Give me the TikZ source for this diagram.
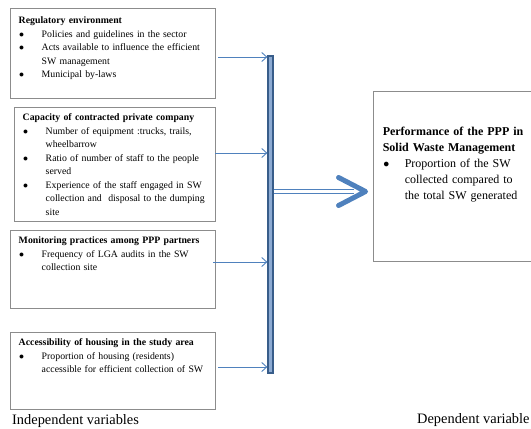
\documentclass[tikz,border=0pt]{standalone}
\usepackage{fontspec}
\setmainfont{Liberation Serif}
\usetikzlibrary{arrows.meta,calc}
\definecolor{FeedClr}{RGB}{79,129,189}
\definecolor{BarClr}{RGB}{56,93,138}
\definecolor{BarFill}{RGB}{140,170,210}
\definecolor{BoxClr}{RGB}{140,140,140}
\newcommand{\ppitem}[2][23pt]{\par\hangindent=#1\hangafter=1\noindent\makebox[#1][l]{\hspace{0.5pt}$\bullet$}#2\par}

\begin{document}
\begin{tikzpicture}[x=1pt,y=-1pt,
  varbox/.style={draw=BoxClr,line width=0.9pt,inner sep=0pt},
  vartext/.style={anchor=north west,inner sep=0pt,text width=195pt,align=left,font=\fontsize{9.8}{13.5}\selectfont},
  feed/.style={draw=FeedClr,line width=0.9pt,-{Straight Barb[length=5pt,width=9pt]}},
  note/.style={anchor=west,inner sep=0pt,font=\fontsize{14.4}{16}\selectfont}]
\useasboundingbox (0,0) rectangle (531,429);

\node[varbox,minimum width=205pt,minimum height=90pt] (reg) at (112.5,53) {};
\node[varbox,minimum width=201pt,minimum height=114pt] (cap) at (114.5,164) {};
\node[varbox,minimum width=205pt,minimum height=78pt] (mon) at (112.5,269) {};
\node[varbox,minimum width=205pt,minimum height=77pt] (acc) at (112.5,370.5) {};
\node[varbox,minimum width=170pt,minimum height=170pt] (perf) at (458,176) {};

\node[vartext] (regtxt) at ([shift={(9pt,-9pt)}]reg.north west) {\textbf{Regulatory environment}
  \ppitem{Policies and guidelines in the sector}
  \ppitem{Acts available to influence the efficient\newline SW management}
  \ppitem{Municipal by-laws}};
\node[vartext] (captxt) at ([shift={(9pt,-7pt)}]cap.north west) {\textbf{Capacity of contracted private company}
  \ppitem{Number of equipment :trucks, trails,\newline wheelbarrow}
  \ppitem{Ratio of number of staff to the people\newline served}
  \ppitem{Experience of the staff engaged in SW\newline collection and\ \ disposal to the dumping\newline site}};
\node[vartext] (montxt) at ([shift={(9pt,-7pt)}]mon.north west) {\textbf{Monitoring practices among PPP partners}
  \ppitem{Frequency of LGA audits in the SW\newline collection site}};
\node[vartext] (acctxt) at ([shift={(9pt,-7pt)}]acc.north west) {\textbf{Accessibility of housing in the study area}
  \ppitem{Proportion of housing (residents)\newline accessible for efficient collection of SW}};
\node[vartext,text width=150pt,font=\fontsize{12}{16}\selectfont] (perftxt) at ([shift={(10pt,-36pt)}]perf.north west)
  {\textbf{Performance of the PPP in\newline Solid Waste Management}
  \ppitem[22pt]{Proportion of the SW\newline collected compared to\newline the total SW generated}};

\node[draw=BarClr,fill=BarFill,line width=1.2pt,inner sep=0pt,minimum width=5pt,minimum height=317pt] (bar) at (270.5,214.5) {};

\coordinate (a1) at ([shift={(3pt,-4pt)}]reg.east);
\coordinate (a2) at ([shift={(0pt,11pt)}]cap.east);
\coordinate (a3) at ([shift={(-2pt,7pt)}]mon.east);
\coordinate (a4) at ([shift={(3pt,3.5pt)}]acc.east);
\draw[feed] (a1) -- (a1 -| bar.west);
\draw[feed] (a2) -- (a2 -| bar.west);
\draw[feed] (a3) -- (a3 -| bar.west);
\draw[feed] (a4) -- (a4 -| bar.west);

\coordinate (tip) at ([shift={(-7pt,-15.5pt)}]perf.west);
\draw[FeedClr,double,double distance=2.6pt,line width=1.6pt] (bar.east |- tip) -- ([xshift=-12pt]tip);
\draw[FeedClr,line width=5pt,line cap=round,line join=round] ([shift={(-27pt,14pt)}]tip) -- (tip) -- ([shift={(-27pt,-14pt)}]tip);

\node[note] (indep) at (12,421) {Independent variables};
\node[note] (dep) at (417,420) {Dependent variable};

\end{tikzpicture}
\end{document}
